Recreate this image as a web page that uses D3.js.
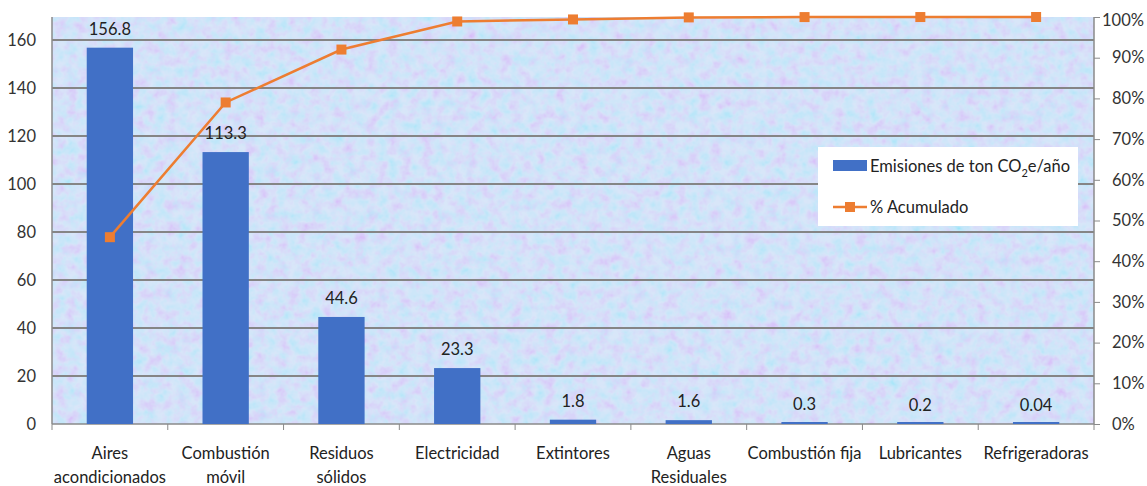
<!DOCTYPE html>
<html>
<head>
<meta charset="utf-8">
<script src="https://cdn.jsdelivr.net/npm/d3@7"></script>
<style>
  body { margin: 0; background: #fff; }
  text { font-family: Lato, "Open Sans", sans-serif; }
</style>
</head>
<body>
<svg id="chart" width="1147" height="486"></svg>
<script>
// data
const categories = [
  ['Aires', 'acondicionados'],
  ['Combustión', 'móvil'],
  ['Residuos', 'sólidos'],
  ['Electricidad'],
  ['Extintores'],
  ['Aguas', 'Residuales'],
  ['Combustión fija'],
  ['Lubricantes'],
  ['Refrigeradoras']
];
const emisiones = [156.8, 113.3, 44.6, 23.3, 1.8, 1.6, 0.3, 0.2, 0.04];
const emisionesLabels = ['156.8', '113.3', '44.6', '23.3', '1.8', '1.6', '0.3', '0.2', '0.04'];
const acumulado = [0.459, 0.790, 0.920, 0.989, 0.994, 0.999, 0.9998, 0.9999, 1.0];
const leftTicks = [0, 20, 40, 60, 80, 100, 120, 140, 160];
const rightTicks = [0, 0.1, 0.2, 0.3, 0.4, 0.5, 0.6, 0.7, 0.8, 0.9, 1.0];

const svg = d3.select('#chart');
const pLeft = 52, pRight = 1094, pTop = 17, pBottom = 424;
const fs = '16.5px';

// scales
const x = d3.scaleBand()
  .domain(d3.range(categories.length))
  .range([pLeft, pRight])
  .paddingInner(0.6)
  .paddingOuter(0.3);
const xBand = d3.scaleBand().domain(d3.range(categories.length)).range([pLeft, pRight]);
const y = d3.scaleLinear().domain([0, 160]).range([pBottom, 40]);
const y2 = d3.scaleLinear().domain([0, 1]).range([pBottom, pTop]);

// plot background with a mottled texture
const defs = svg.append('defs');
const f = defs.append('filter').attr('id', 'mottle')
  .attr('x', 0).attr('y', 0).attr('width', '100%').attr('height', '100%');
f.append('feTurbulence').attr('type', 'fractalNoise')
  .attr('baseFrequency', 0.09).attr('numOctaves', 3).attr('seed', 7);
f.append('feColorMatrix').attr('type', 'matrix')
  .attr('values', '1.4 -0.6 0 0 0.45  -0.6 1.4 0 0 0.5  0 0 0 0 1  0 0 0 0 0.3');
f.append('feComposite').attr('in2', 'SourceGraphic').attr('operator', 'in');

svg.append('rect')
  .attr('x', pLeft).attr('y', pTop)
  .attr('width', pRight - pLeft).attr('height', pBottom - pTop)
  .style('fill', '#c8dbf6');
svg.append('rect')
  .attr('x', pLeft).attr('y', pTop)
  .attr('width', pRight - pLeft).attr('height', pBottom - pTop)
  .style('fill', '#fff')
  .attr('filter', 'url(#mottle)');

// gridlines
svg.append('g').selectAll('line')
  .data(leftTicks.filter((d) => d > 0))
  .enter()
  .append('line')
  .attr('x1', pLeft).attr('x2', pRight)
  .attr('y1', (d) => y(d)).attr('y2', (d) => y(d))
  .style('stroke', '#858585')
  .style('stroke-width', 2);

// left axis
const gl = svg.append('g').attr('transform', 'translate(' + pLeft + ',0)')
  .call(d3.axisLeft(y).tickValues(leftTicks).tickSize(0).tickPadding(16));
gl.select('.domain').attr('d', 'M0,' + pTop + 'V' + pBottom).style('stroke', '#8a8a8a').style('stroke-width', 1.5);
gl.selectAll('text').style('font-size', fs).style('fill', '#333');

// right axis
const gr = svg.append('g').attr('transform', 'translate(' + pRight + ',0)')
  .call(d3.axisRight(y2).tickValues(rightTicks).tickFormat(d3.format('.0%')).tickSize(6).tickPadding(12));
gr.select('.domain').attr('d', 'M0,' + pTop + 'V' + pBottom).style('stroke', '#8a8a8a').style('stroke-width', 1.5);
gr.selectAll('line').style('stroke', '#8a8a8a');
gr.selectAll('text').style('font-size', fs).style('fill', '#333');
// keep the top label inside the picture
gr.selectAll('text').filter((d) => d === 1).attr('dy', '0.5em').attr('x', 8);

// x axis
const gx = svg.append('g').attr('transform', 'translate(0,' + pBottom + ')');
gx.append('line').attr('x1', pLeft).attr('x2', pRight).style('stroke', '#8a8a8a').style('stroke-width', 1.5);
gx.selectAll('.tk')
  .data(d3.range(categories.length + 1))
  .enter()
  .append('line')
  .attr('x1', (i) => pLeft + i * xBand.bandwidth())
  .attr('x2', (i) => pLeft + i * xBand.bandwidth())
  .attr('y1', 0).attr('y2', 6)
  .style('stroke', '#8a8a8a');
const lab = gx.selectAll('.lab')
  .data(categories)
  .enter()
  .append('text')
  .attr('text-anchor', 'middle')
  .style('font-size', fs)
  .style('fill', '#222');
lab.selectAll('tspan')
  .data((d, i) => d.map((t) => ({ t: t, i: i })))
  .enter()
  .append('tspan')
  .attr('x', (d) => xBand(d.i) + xBand.bandwidth() / 2)
  .attr('y', (d, k) => 35 + k * 24)
  .text((d) => d.t);

// bars
svg.append('g').selectAll('rect')
  .data(emisiones)
  .enter()
  .append('rect')
  .attr('x', (d, i) => x(i))
  .attr('y', (d) => Math.min(y(d), pBottom - 2))
  .attr('width', x.bandwidth())
  .attr('height', (d) => Math.max(pBottom - y(d), 2))
  .style('fill', '#4170c6');

// bar labels
svg.append('g').selectAll('text')
  .data(emisiones)
  .enter()
  .append('text')
  .attr('x', (d, i) => x(i) + x.bandwidth() / 2)
  .attr('y', (d) => y(d) - 13)
  .attr('text-anchor', 'middle')
  .style('font-size', fs)
  .style('fill', '#222')
  .text((d, i) => emisionesLabels[i]);

// cumulative line
const cx = (i) => xBand(i) + xBand.bandwidth() / 2;
svg.append('path')
  .datum(acumulado)
  .attr('d', d3.line().x((d, i) => cx(i)).y((d) => y2(d)))
  .style('fill', 'none')
  .style('stroke', '#ed7d31')
  .style('stroke-width', 2.5);
svg.append('g').selectAll('rect')
  .data(acumulado)
  .enter()
  .append('rect')
  .attr('x', (d, i) => cx(i) - 5)
  .attr('y', (d) => y2(d) - 5)
  .attr('width', 10).attr('height', 10)
  .style('fill', '#ed7d31');

// legend
const lg = svg.append('g').attr('transform', 'translate(818,147)');
lg.append('rect').attr('width', 260).attr('height', 79).style('fill', '#fff');
lg.append('rect').attr('x', 15).attr('y', 13).attr('width', 34).attr('height', 11).style('fill', '#4170c6');
const t1 = lg.append('text').attr('x', 52).attr('y', 25).style('font-size', fs).style('fill', '#222');
t1.append('tspan').text('Emisiones de ton CO');
t1.append('tspan').attr('dy', 5).style('font-size', '11px').text('2');
t1.append('tspan').attr('dy', -5).text('e/año');
lg.append('line').attr('x1', 15).attr('x2', 49).attr('y1', 60).attr('y2', 60)
  .style('stroke', '#ed7d31').style('stroke-width', 2.5);
lg.append('rect').attr('x', 27).attr('y', 55).attr('width', 10).attr('height', 10).style('fill', '#ed7d31');
lg.append('text').attr('x', 52).attr('y', 66).style('font-size', fs).style('fill', '#222').text('% Acumulado');
</script>
</body>
</html>
